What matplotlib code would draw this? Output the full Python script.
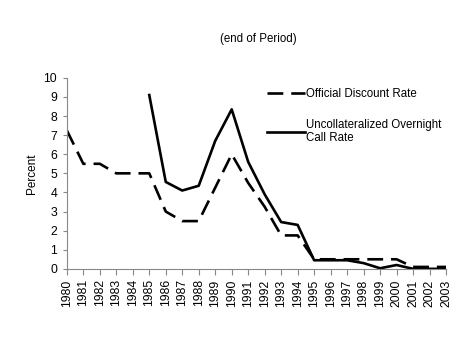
import matplotlib
matplotlib.use("Agg")
import matplotlib.pyplot as plt

plt.rcParams["font.family"] = ["Liberation Sans", "DejaVu Sans"]

years = list(range(1980, 2004))
discount_rate = [7.25, 5.5, 5.5, 5.0, 5.0, 5.0, 3.0, 2.5, 2.5, 4.25, 6.0, 4.5,
                 3.25, 1.75, 1.75, 0.5, 0.5, 0.5, 0.5, 0.5, 0.5, 0.1, 0.1, 0.1]
call_years = list(range(1985, 2004))
call_rate = [9.1, 4.55, 4.1, 4.35, 6.7, 8.35, 5.6, 3.9, 2.45, 2.3, 0.45, 0.45,
             0.45, 0.3, 0.03, 0.2, 0.0, 0.0, 0.0]

fig = plt.figure(figsize=(4.74, 3.46), dpi=100)
ax = fig.add_axes([0.141, 0.223, 0.8, 0.552])

ax.plot(years, discount_rate, color="black", lw=1.9, dashes=(6, 3),
        label="Official Discount Rate")
ax.plot(call_years, call_rate, color="black", lw=1.9,
        label="Uncollateralized Overnight\nCall Rate")

ax.set_xlim(1980, 2003)
ax.set_ylim(0, 10)
ax.set_xticks(years)
ax.set_xticklabels([str(y) for y in years], rotation=90, fontsize=8.8)
ax.set_yticks(range(0, 11))
ax.tick_params(axis="y", labelsize=8.8, length=3, pad=4, color="#888888")
ax.tick_params(axis="x", length=4, color="#888888")
ax.set_ylabel("Percent", fontsize=8.5)

for side in ("top", "right"):
    ax.spines[side].set_visible(False)
for side in ("left", "bottom"):
    ax.spines[side].set_color("#888888")

ax.legend(loc="upper left", bbox_to_anchor=(0.5, 1.0), frameon=False,
          fontsize=8.3, handlelength=3.3, handletextpad=0.1, labelspacing=1.6)

fig.text(0.545, 0.88, "(end of Period)", ha="center", fontsize=8.3)

fig.savefig("out.png", dpi=100)
